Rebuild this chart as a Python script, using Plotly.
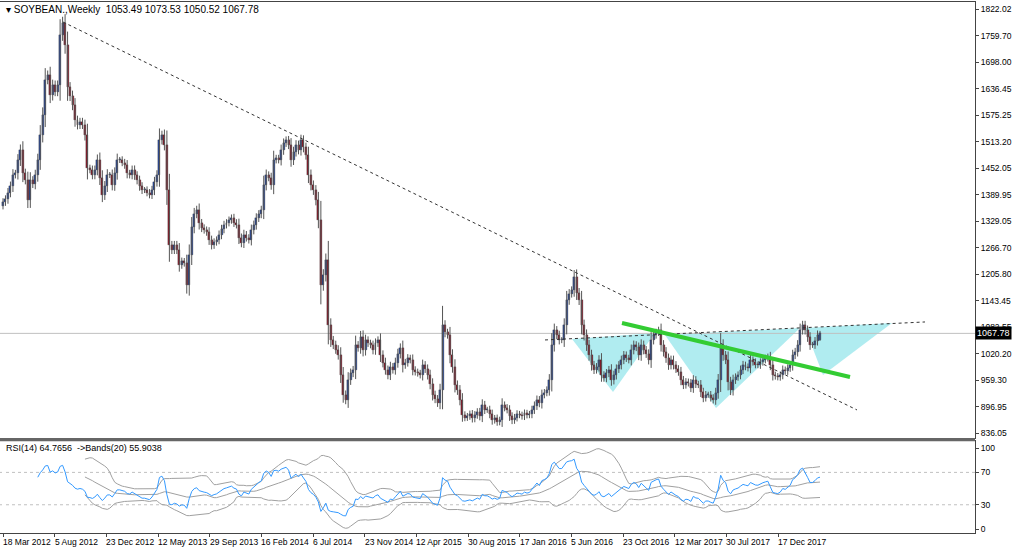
import numpy as np
import plotly.graph_objects as go

closes = [1373,1380,1395,1410,1436,1440,1470,1494,1440,1425,1378,1424,1415,1436,1470,1530,1575,1657,1669,1622,
1645,1630,1645,1762,1790,1738,1640,1620,1599,1564,1552,1560,1552,1529,1452,1448,1436,1448,1471,1430,
1390,1410,1436,1436,1413,1440,1471,1471,1465,1459,1440,1436,1448,1435,1424,1410,1401,1401,1395,1390,
1401,1420,1436,1517,1529,1506,1400,1273,1262,1273,1262,1227,1235,1231,1180,1250,1315,1345,1355,1324,
1313,1308,1303,1285,1273,1280,1285,1297,1310,1320,1325,1331,1336,1325,1320,1290,1278,1297,1290,1285,
1308,1320,1336,1345,1355,1413,1436,1430,1413,1471,1475,1471,1494,1510,1517,1506,1471,1490,1506,1494,
1517,1500,1483,1436,1413,1400,1378,1331,1180,1204,1238,1087,1052,1041,1030,1017,971,925,913,959,
975,983,1041,1034,1060,1029,1052,1045,1041,1029,1045,1052,1017,1000,983,971,990,983,1000,1020,
1034,994,1000,1010,1006,983,978,975,971,994,985,971,950,925,915,906,936,1087,1070,1064,
1017,990,948,935,913,878,872,875,880,870,878,885,875,901,890,890,880,866,870,862,
866,901,895,890,875,866,872,880,878,875,882,878,880,890,900,913,905,925,930,936,
960,1041,1075,1064,1052,1052,1087,1145,1160,1168,1200,1162,1145,1087,1064,1040,1017,994,983,990,
1006,971,964,975,983,959,971,985,994,1006,1017,1010,1006,1029,1041,1035,1017,1041,1029,1020,
1006,1052,1064,1070,1075,1041,1025,1010,994,1006,994,985,978,959,948,955,952,941,959,950,
948,931,918,925,925,918,913,930,959,1041,1017,1006,955,936,959,966,971,983,994,990,
987,1006,1001,995,994,1001,1006,1010,1013,994,971,968,966,971,983,980,987,994,1017,1025,
1041,1075,1087,1075,1059,1041,1041,1050,1064,1067.78]
first_open = 1365
tick_labels = ["18 Mar 2012","5 Aug 2012","23 Dec 2012","12 May 2013","29 Sep 2013","16 Feb 2014",
"6 Jul 2014","23 Nov 2014","12 Apr 2015","30 Aug 2015","17 Jan 2016","5 Jun 2016",
"23 Oct 2016","12 Mar 2017","30 Jul 2017","17 Dec 2017"]
price_ticks = [1822.02,1759.70,1698.00,1636.45,1575.25,1513.20,1452.05,1389.95,1329.05,1266.70,
1205.80,1143.45,1082.55,1020.20,959.30,896.95,836.05]
last_price = 1067.78

N = len(closes)
c = np.array(closes, float)
o = np.concatenate([[first_open], c[:-1]])
o[-1] = 1053.49
body = np.abs(c - o)
h = np.maximum(o, c) + 0.25*body + 7
l = np.minimum(o, c) - 0.25*body - 7
h[-1] = 1073.53; l[-1] = 1050.52
x = np.arange(N)

def px2i(px):
    return (px - 3) / 817 * (N - 1)

def y2p(py):
    return 1822.02 - (py - 9) * 2.325

d = np.diff(c)
gain = np.where(d > 0, d, 0); loss = np.where(d < 0, -d, 0)
rsi = np.full(N, np.nan)
ag = gain[:14].mean(); al = loss[:14].mean()
for i in range(14, N):
    if i > 14:
        ag = (ag*13 + gain[i-1]) / 14; al = (al*13 + loss[i-1]) / 14
    rsi[i] = 100 - 100/(1 + ag/al) if al > 0 else 100
mid = np.full(N, np.nan); up = np.full(N, np.nan); dn = np.full(N, np.nan)
for i in range(33, N):
    w = rsi[i-19:i+1]
    mid[i] = w.mean(); s = w.std()
    up[i] = mid[i] + 2*s; dn[i] = mid[i] - 2*s

fig = go.Figure()
wx, wy = [], []
for i in range(N):
    wx += [i, i, None]; wy += [l[i], h[i], None]
fig.add_trace(go.Scatter(x=wx, y=wy, mode="lines", line=dict(color="#555", width=1),
                         showlegend=False, hoverinfo="skip", xaxis="x", yaxis="y"))
inc = c >= o
for mask, col in ((inc, "#2b4a9a"), (~inc, "#8c1c2c")):
    fig.add_trace(go.Bar(x=x[mask], y=np.maximum(body[mask], 2), base=np.minimum(o, c)[mask], width=0.8,
                         marker=dict(color=col, line=dict(color="#222", width=0.3)),
                         showlegend=False, xaxis="x", yaxis="y"))
for arr in (up, mid, dn):
    fig.add_trace(go.Scatter(x=x, y=arr, mode="lines", line=dict(color="#a0a0a0", width=1),
                             showlegend=False, xaxis="x2", yaxis="y2"))
fig.add_trace(go.Scatter(x=x, y=rsi, mode="lines", line=dict(color="#3399ff", width=1),
                         showlegend=False, xaxis="x2", yaxis="y2"))

xr = [px2i(0), px2i(975)]
tickstart = [px2i(3 + 51.67*k) for k in range(len(tick_labels))]
fig.update_layout(
    width=1024, height=550, margin=dict(l=0, r=49, t=2, b=17), bargap=0,
    paper_bgcolor="white", plot_bgcolor="white",
    font=dict(family="Liberation Sans", size=9, color="#000"),
    xaxis=dict(domain=[0,1], range=xr, showgrid=False, showticklabels=False,
               showline=True, mirror=True, linecolor="#444", anchor="y"),
    yaxis=dict(domain=[0.179,1], range=[y2p(438), y2p(2)], side="right", tickvals=price_ticks,
               ticktext=[f"{v:.2f}" for v in price_ticks], showgrid=False, ticks="outside", ticklen=3,
               showline=True, mirror=True, linecolor="#444", anchor="x", tickfont=dict(size=8.5)),
    xaxis2=dict(domain=[0,1], range=xr, tickvals=tickstart, showticklabels=False, showgrid=False,
                ticks="outside", ticklen=3, showline=True, mirror=True, linecolor="#444", anchor="y2"),
    yaxis2=dict(domain=[0,0.173], range=[-4.9,108.6], side="right", tickvals=[0,30,70,100],
                showgrid=False, ticks="outside", ticklen=3, showline=True, mirror=True, linecolor="#444",
                anchor="x2", tickfont=dict(size=8.5)),
)
for pos, lab in zip(tickstart, tick_labels):
    fig.add_annotation(x=pos, xref="x2", y=-0.004, yref="paper", yanchor="top", xanchor="left",
                       text=lab, showarrow=False, font=dict(size=8.5), xshift=-2)
tris = [[(572,339),(613,392),(655,333)], [(665,335),(716,408),(800,328)], [(805,328),(823,375),(892,323)]]
for t in tris:
    path = "M " + " L ".join(f"{px2i(a)},{y2p(b)}" for a, b in t) + " Z"
    fig.add_shape(type="path", path=path, fillcolor="rgba(150,230,235,0.75)", line=dict(width=0),
                  xref="x", yref="y", layer="below")
fig.add_shape(type="line", x0=xr[0], x1=xr[1], y0=last_price, y1=last_price, xref="x", yref="y",
              line=dict(color="#c0c0c0", width=1), layer="below")
fig.add_shape(type="line", x0=px2i(63), y0=y2p(22), x1=px2i(857), y1=y2p(410), xref="x", yref="y",
              line=dict(color="#333", width=1, dash="dot"))
fig.add_shape(type="line", x0=px2i(545), y0=y2p(340), x1=px2i(925), y1=y2p(322), xref="x", yref="y",
              line=dict(color="#333", width=1, dash="dot"))
fig.add_shape(type="line", x0=px2i(622), y0=y2p(323), x1=px2i(850), y1=y2p(377), xref="x", yref="y",
              line=dict(color="#33cc33", width=4))
for v in (30, 70):
    fig.add_shape(type="line", x0=xr[0], x1=xr[1], y0=v, y1=v, xref="x2", yref="y2",
                  line=dict(color="#c0c0c0", width=1, dash="dot"), layer="below")
fig.add_shape(type="rect", xref="paper", yref="paper", x0=0, x1=1, y0=0.173, y1=0.179,
              fillcolor="#666", line=dict(width=0))
fig.add_annotation(x=1, xref="paper", y=last_price, yref="y", xanchor="left", text=f"{last_price:.2f}",
                   showarrow=False, bgcolor="black", font=dict(color="white", size=9), borderpad=1)
fig.add_annotation(x=0.004, xref="paper", y=y2p(9), yref="y", xanchor="left", showarrow=False,
                   text="▾ SOYBEAN.,Weekly  1053.49 1073.53 1050.52 1067.78", font=dict(size=10))
fig.add_annotation(x=0.004, xref="paper", y=100, yref="y2", xanchor="left", showarrow=False,
                   text="RSI(14) 64.7656  ->Bands(20) 55.9038", font=dict(size=9))
fig.write_html("out.html", config={"displayModeBar": False},
               post_script="document.body.style.margin='0';document.body.style.overflow='hidden';")
